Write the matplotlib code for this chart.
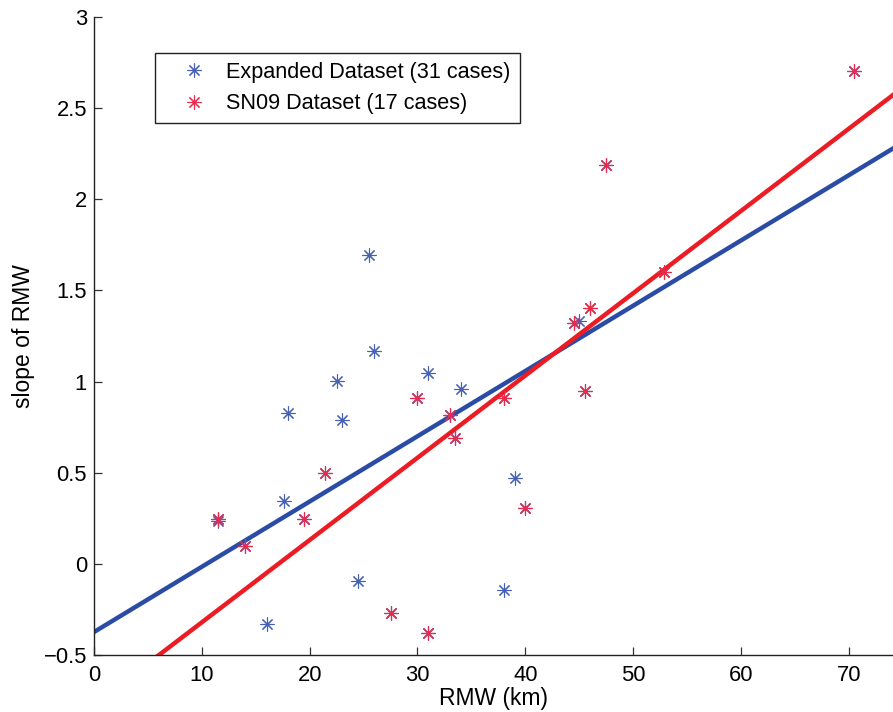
import numpy as np
import matplotlib
matplotlib.use("Agg")
import matplotlib.pyplot as plt

plt.rcParams['font.family'] = ['Liberation Sans', 'DejaVu Sans']

# SN09 dataset (17 cases)
sn09_rmw = [11.5, 14.0, 19.5, 21.4, 27.5, 30.0, 31.0, 33.0, 33.5, 38.0,
            40.0, 44.5, 45.5, 46.0, 47.5, 52.9, 70.5]
sn09_slope = [0.246, 0.098, 0.245, 0.50, -0.271, 0.912, -0.381, 0.815, 0.689, 0.912,
              0.305, 1.32, 0.948, 1.404, 2.186, 1.60, 2.704]

# Additional cases of the expanded dataset (14), expanded = additional + SN09 (31)
extra_rmw = [11.5, 16.0, 17.6, 18.0, 22.5, 23.0, 24.5, 25.5, 26.0, 31.0,
             34.0, 38.0, 39.0, 45.0]
extra_slope = [0.237, -0.33, 0.347, 0.826, 1.005, 0.79, -0.094, 1.694, 1.17, 1.049,
               0.961, -0.143, 0.47, 1.332]
exp_rmw = extra_rmw + sn09_rmw
exp_slope = extra_slope + sn09_slope

# Linear fits (slope, intercept)
exp_fit = (0.0358, -0.374)
sn09_fit = (0.04513, -0.772)
fit_x = np.array([0.0, 80.0])

blue_line = '#2b4ca5'
red_line = '#ec1c24'
blue_mk = '#4560b4'
red_mk = '#ea2a4a'

fig = plt.figure(figsize=(8.93, 7.12), dpi=100)
ax = fig.add_axes([94/893, 57/712, 799/893, 638/712])

ax.plot(fit_x, exp_fit[0]*fit_x + exp_fit[1], color=blue_line, lw=3.2, zorder=2)
ax.plot(fit_x, sn09_fit[0]*fit_x + sn09_fit[1], color=red_line, lw=3.2, zorder=2)

ax.plot(exp_rmw, exp_slope, linestyle='none', marker=(8, 2, 0), ms=10, mew=0.8,
        color=blue_mk, label='Expanded Dataset (31 cases)', zorder=3)
ax.plot(sn09_rmw, sn09_slope, linestyle='none', marker=(8, 2, 0), ms=10, mew=0.8,
        color=red_mk, label='SN09 Dataset (17 cases)', zorder=4)

ax.set_xlim(0, 74.1)
ax.set_ylim(-0.5, 3)
ax.set_xticks(np.arange(0, 71, 10))
ax.set_yticks([-0.5, 0, 0.5, 1, 1.5, 2, 2.5, 3])
ax.set_yticklabels(['\u22120.5', '0', '0.5', '1', '1.5', '2', '2.5', '3'])
ax.spines['top'].set_visible(False)
ax.spines['right'].set_visible(False)
for s in ['left', 'bottom']:
    ax.spines[s].set_color('#222222')
    ax.spines[s].set_linewidth(1.0)
ax.tick_params(direction='in', length=5.8, width=0.9, color='#333333',
               labelsize=15.8, pad=5)
ax.tick_params(axis='x', pad=7)

ax.set_xlabel('RMW (km)', fontsize=16.5, labelpad=1)
ax.set_ylabel('slope of RMW', fontsize=16.5, labelpad=6)

leg = ax.legend(loc='upper left', bbox_to_anchor=(0.0763, 0.9436), borderaxespad=0,
                fontsize=15.6, fancybox=False, edgecolor='#222222', framealpha=1,
                borderpad=0.4, handlelength=2.8, handletextpad=0.1, labelspacing=0.5)
leg.get_frame().set_linewidth(1.0)

fig.savefig('out.png', dpi=100)
